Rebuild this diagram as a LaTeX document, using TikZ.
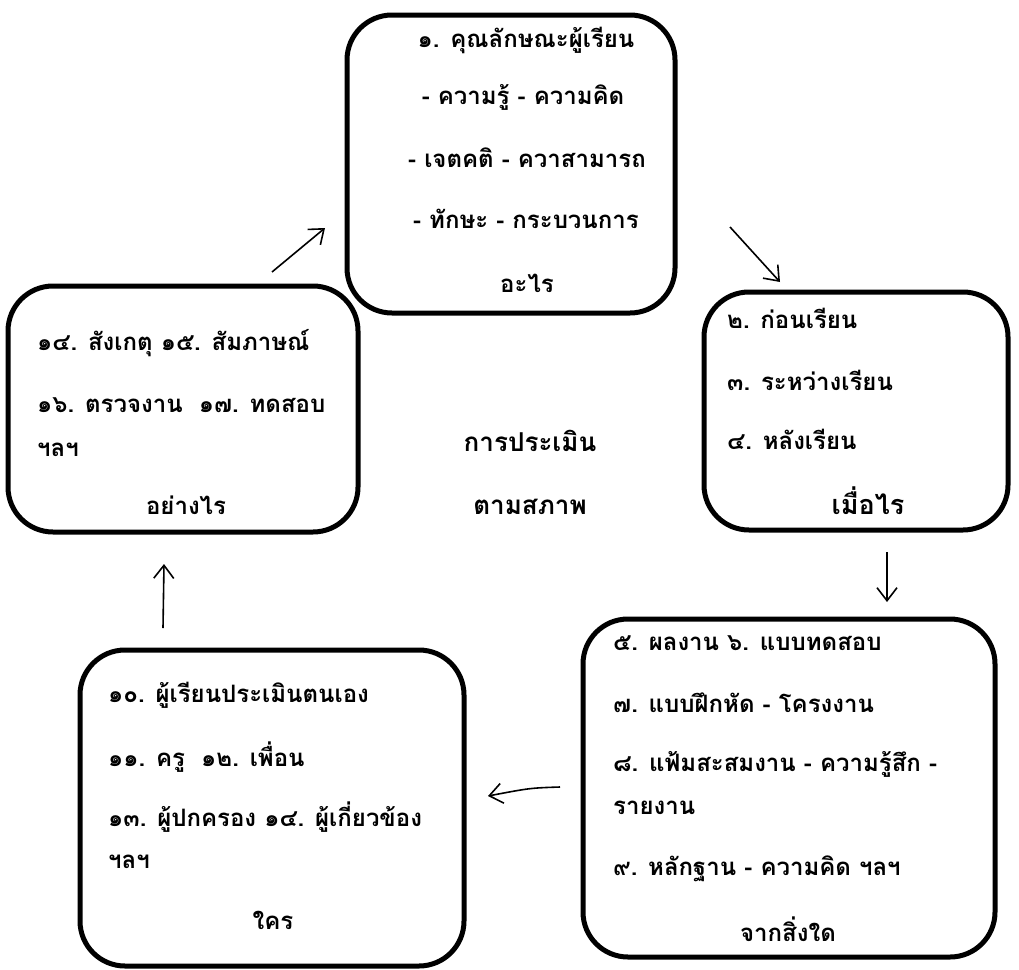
\documentclass[tikz,border=0pt]{standalone}
\usepackage{fontspec}
\newfontfamily\thai[Script=Thai]{Loma}
\usetikzlibrary{arrows.meta}
\begin{document}
\begin{tikzpicture}[x=1pt,y=-1pt,
  box/.style={draw, line width=5pt, rounded corners=45pt, inner sep=0pt},
  txt/.style={font=\thai\bfseries\fontsize{24}{28}\selectfont, inner sep=0pt},
  big/.style={font=\thai\bfseries\fontsize{27}{31}\selectfont, inner sep=0pt},
  mid/.style={font=\thai\bfseries\fontsize{26}{30}\selectfont, inner sep=0pt},
  arr/.style={-{Straight Barb[length=13pt,width=20pt]}, line width=1.6pt}]
\useasboundingbox (0,0) rectangle (1019,969);
% boxes
\node[box, minimum width=328pt, minimum height=298pt] (what) at (511,164) {};
\node[box, minimum width=304pt, minimum height=238pt] (when) at (856,411) {};
\node[box, minimum width=412pt, minimum height=338pt] (from) at (789,788) {};
\node[box, minimum width=384pt, minimum height=316pt] (who) at (272,808) {};
\node[box, minimum width=350pt, minimum height=246pt] (how) at (183,409) {};
% top box
\node[txt] (w1) at (526,40) {๑. คุณลักษณะผู้เรียน};
\node[txt] (w2) at (523,97) {- ความรู้ - ความคิด};
\node[txt] (w3) at (527,158) {- เจตคติ - ควาสามารถ};
\node[txt] (w4) at (526,219) {- ทักษะ - กระบวนการ};
\node[txt] (w5) at (527,283) {อะไร};
% right box
\node[txt, anchor=west] (n1) at (727,318) {๒. ก่อนเรียน};
\node[txt, anchor=west] (n2) at (727,380) {๓. ระหว่างเรียน};
\node[txt, anchor=west] (n3) at (727,439) {๔. หลังเรียน};
\node[big] (n4) at (868,501) {เมื่อไร};
% bottom right box
\node[txt, anchor=west] (f1) at (613,643) {๕. ผลงาน ๖. แบบทดสอบ};
\node[txt, anchor=west] (f2) at (613,703) {๗. แบบฝึกหัด - โครงงาน};
\node[txt, anchor=west] (f3) at (613,764) {๘. แฟ้มสะสมงาน - ความรู้สึก -};
\node[txt, anchor=west] (f4) at (613,808) {รายงาน};
\node[txt, anchor=west] (f5) at (613,869) {๙. หลักฐาน - ความคิด ฯลฯ};
\node[txt] (f6) at (788,929) {จากสิ่งใด};
% bottom left box
\node[txt, anchor=west] (p1) at (108,695) {๑๐. ผู้เรียนประเมินตนเอง};
\node[txt, anchor=west] (p2) at (108,757) {๑๑. ครู\ \ ๑๒. เพื่อน};
\node[txt, anchor=west] (p3) at (108,817) {๑๓. ผู้ปกครอง ๑๔. ผู้เกี่ยวข้อง};
\node[txt, anchor=west] (p4) at (108,862) {ฯลฯ};
\node[txt] (p5) at (273,920) {ใคร};
% left box
\node[txt, anchor=west] (h1) at (37,343) {๑๔. สังเกตุ ๑๕. สัมภาษณ์};
\node[txt, anchor=west] (h2) at (37,405) {๑๖. ตรวจงาน\ \ ๑๗. ทดสอบ};
\node[txt, anchor=west] (h3) at (37,450) {ฯลฯ};
\node[txt] (h4) at (186,505) {อย่างไร};
% centre
\node[mid] (c1) at (530,441) {การประเมิน};
\node[mid] (c2) at (530,507) {ตามสภาพ};
% arrows
\coordinate (a1s) at (272,272); \coordinate (a1e) at (325,228);
\coordinate (a2s) at (730,227); \coordinate (a2e) at (780,282);
\coordinate (a3s) at (887,552); \coordinate (a3e) at (887,602);
\coordinate (a4s) at (560,787); \coordinate (a4e) at (488,796);
\coordinate (a5s) at (163,628); \coordinate (a5e) at (164,564);
\draw[arr] (a1s) -- (a1e);
\draw[arr] (a2s) -- (a2e);
\draw[arr] (a3s) -- (a3e);
\draw[arr] (a4s) .. controls (530,788) .. (a4e);
\draw[arr] (a5s) -- (a5e);
\end{tikzpicture}
\end{document}
